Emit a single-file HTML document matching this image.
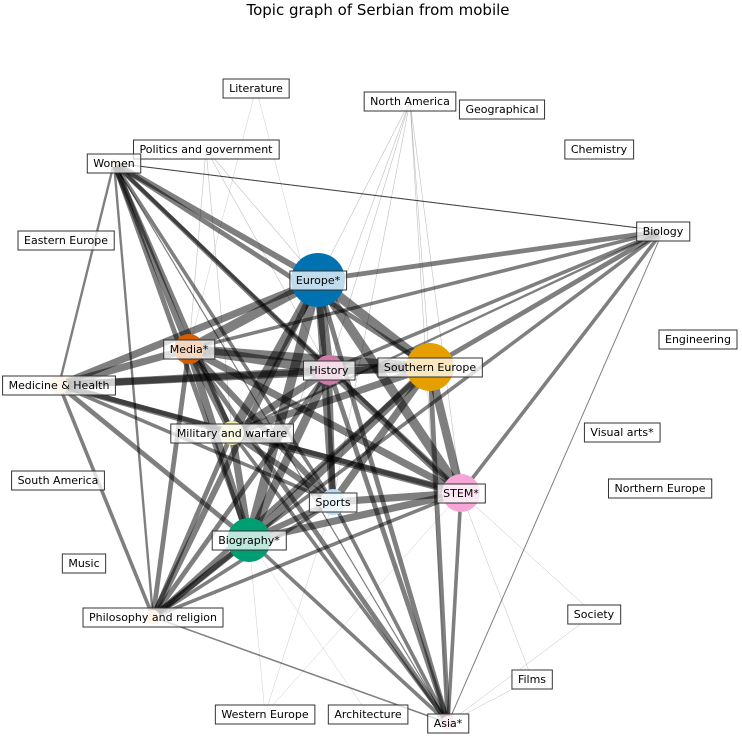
<!DOCTYPE html>
<html><head><meta charset="utf-8"><style>
body{margin:0;background:#fff}
svg text{font-family:"DejaVu Sans","Liberation Sans",sans-serif}
</style></head><body>
<svg id="chart" width="742" height="739">
<text x="378" y="15" font-size="15" text-anchor="middle">Topic graph of Serbian from mobile</text>
<g id="edges"></g>
<g id="nodes"></g>
<g id="labels"></g>
</svg>
<script>
const nodeNames=["Literature","North America","Geographical","Chemistry","Politics and government","Women","Biology","Eastern Europe","Europe*","Engineering","Media*","Medicine & Health","History","Southern Europe","Military and warfare","Visual arts*","South America","STEM*","Northern Europe","Sports","Biography*","Music","Philosophy and religion","Society","Films","Western Europe","Architecture","Asia*"];
const nodeX=[256,410,502,599,206,114,663,66,318,698,189,59,329,430,232,622,58,461,660,333,249,84,153,594,532,265,368,448];
const nodeY=[88,101,109,149,149,163,231,240,280,339,349,385,370,367,433,432,480,493,488,502,540,563,617,614,679,714,714,723];
const nodeSize=[0,0,0,0,0,4,6,0,27,0,15,9,15,24,12,0,0,19,0,13,22,0,7,0,0,0,0,7];
const nodeColor=["#fff","#fff","#fff","#fff","#fff","#fde0c0","#ddd","#fff","#0072b2","#fff","#d55e00","#fbd5b0","#cc79a7","#e69f00","#f0eaa0","#fff","#fff","#f5a6d6","#fff","#b7dcf5","#009e73","#fff","#fbd5a0","#fff","#fff","#fff","#fff","#f5b6e0"];
const edgeSrc=["Europe*","Europe*","Europe*","Europe*","Europe*","Europe*","Europe*","Europe*","Europe*","Europe*","Europe*","Europe*",
"Media*","Media*","Media*","Media*","Media*","Media*","Media*","Media*","Media*","Media*","Media*",
"History","History","History","History","History","History","History","History","History","History",
"Southern Europe","Southern Europe","Southern Europe","Southern Europe","Southern Europe","Southern Europe","Southern Europe","Southern Europe","Southern Europe",
"Military and warfare","Military and warfare","Military and warfare","Military and warfare","Military and warfare","Military and warfare","Military and warfare","Military and warfare",
"STEM*","STEM*","STEM*","STEM*","STEM*","STEM*","STEM*",
"Sports","Sports","Sports","Sports","Sports",
"Biography*","Biography*","Biography*","Biography*","Biography*",
"Philosophy and religion","Philosophy and religion","Philosophy and religion","Medicine & Health","Women","Asia*","Women","Philosophy and religion",
"North America","North America","North America","North America","North America","North America","North America","Politics and government","Politics and government","Politics and government","Politics and government","Literature","Literature","Western Europe","Western Europe","Western Europe","Architecture","Society","Society","Films","Films","Women"];
const edgeDst=["Media*","History","Southern Europe","Military and warfare","STEM*","Sports","Biography*","Philosophy and religion","Medicine & Health","Women","Biology","Asia*",
"History","Southern Europe","Military and warfare","STEM*","Sports","Biography*","Philosophy and religion","Medicine & Health","Women","Biology","Asia*",
"Southern Europe","Military and warfare","STEM*","Sports","Biography*","Philosophy and religion","Medicine & Health","Women","Asia*","Biology",
"Military and warfare","STEM*","Sports","Biography*","Philosophy and religion","Medicine & Health","Women","Biology","Asia*",
"STEM*","Sports","Biography*","Philosophy and religion","Medicine & Health","Women","Asia*","Biology",
"Sports","Biography*","Philosophy and religion","Medicine & Health","Women","Biology","Asia*",
"Biography*","Philosophy and religion","Medicine & Health","Women","Asia*",
"Philosophy and religion","Medicine & Health","Women","Asia*","Biology",
"Medicine & Health","Women","Asia*","Women","Biology","Biology","Asia*","Biography*",
"Europe*","History","Southern Europe","STEM*","Sports","Biography*","Asia*","Europe*","Media*","History","Military and warfare","Media*","History","Biography*","Sports","STEM*","Biography*","STEM*","Asia*","Asia*","STEM*","Biology"];
const edgeWeight=[8,8,8,8,8,6,8,5,6,5,4,4,
8,7,6,6,5,6,4,6,5,3,4,
8,6,6,5,7,4,6,4,4,3,
6,7,6,7,4,6,4,4,4,
6,5,6,4,5,4,3,2,
6,6,3,4,3,3,3,
5,3,3,3,3,
5,4,4,3,3,
3,2,1.5,2,1,1,1.2,4,
0.6,0.6,0.6,0.6,0.6,0.6,0.6,0.6,0.6,0.6,0.6,0.4,0.4,0.4,0.4,0.4,0.4,0.5,0.5,0.5,0.5,1];
const nodeLabels=nodeNames;

const ns="http://www.w3.org/2000/svg";
const idx=n=>nodeNames.indexOf(n);
const px=i=>nodeX[i], py=i=>nodeY[i];
const eg=document.getElementById('edges');
for(let k=0;k<edgeSrc.length;k++){
  const a=idx(edgeSrc[k]),b=idx(edgeDst[k]);
  const w=edgeWeight[k];
  const l=document.createElementNS(ns,'line');
  l.setAttribute('x1',px(a));l.setAttribute('y1',py(a));
  l.setAttribute('x2',px(b));l.setAttribute('y2',py(b));
  l.setAttribute('stroke','#000');
  l.setAttribute('stroke-opacity',w<1?0.25:0.5);
  l.setAttribute('stroke-width',w>=2?w*1.2:w);
  
  
  eg.appendChild(l);
}
const ng=document.getElementById('nodes');
for(let i=0;i<nodeNames.length;i++){
  if(!nodeSize[i])continue;
  const c=document.createElementNS(ns,'circle');
  c.setAttribute('cx',px(i));c.setAttribute('cy',py(i));c.setAttribute('r',nodeSize[i]);
  c.setAttribute('fill',nodeColor[i]);
  
  
  ng.appendChild(c);
}
const lg=document.getElementById('labels');
for(let i=0;i<nodeNames.length;i++){
  const g=document.createElementNS(ns,'g');
  
  
  const t=document.createElementNS(ns,'text');
  t.setAttribute('x',px(i));t.setAttribute('y',py(i)+4);
  t.setAttribute('font-size','11');t.setAttribute('text-anchor','middle');
  t.textContent=nodeLabels[i];
  lg.appendChild(g);g.appendChild(t);
  const bb=t.getBBox();
  const r=document.createElementNS(ns,'rect');
  r.setAttribute('x',bb.x-6);r.setAttribute('y',py(i)-9);
  r.setAttribute('width',bb.width+12);r.setAttribute('height',19);
  r.setAttribute('fill','#fff');r.setAttribute('fill-opacity','0.75');
  r.setAttribute('stroke','#333');r.setAttribute('stroke-width','1');
  g.insertBefore(r,t);
}
</script>
</body></html>
